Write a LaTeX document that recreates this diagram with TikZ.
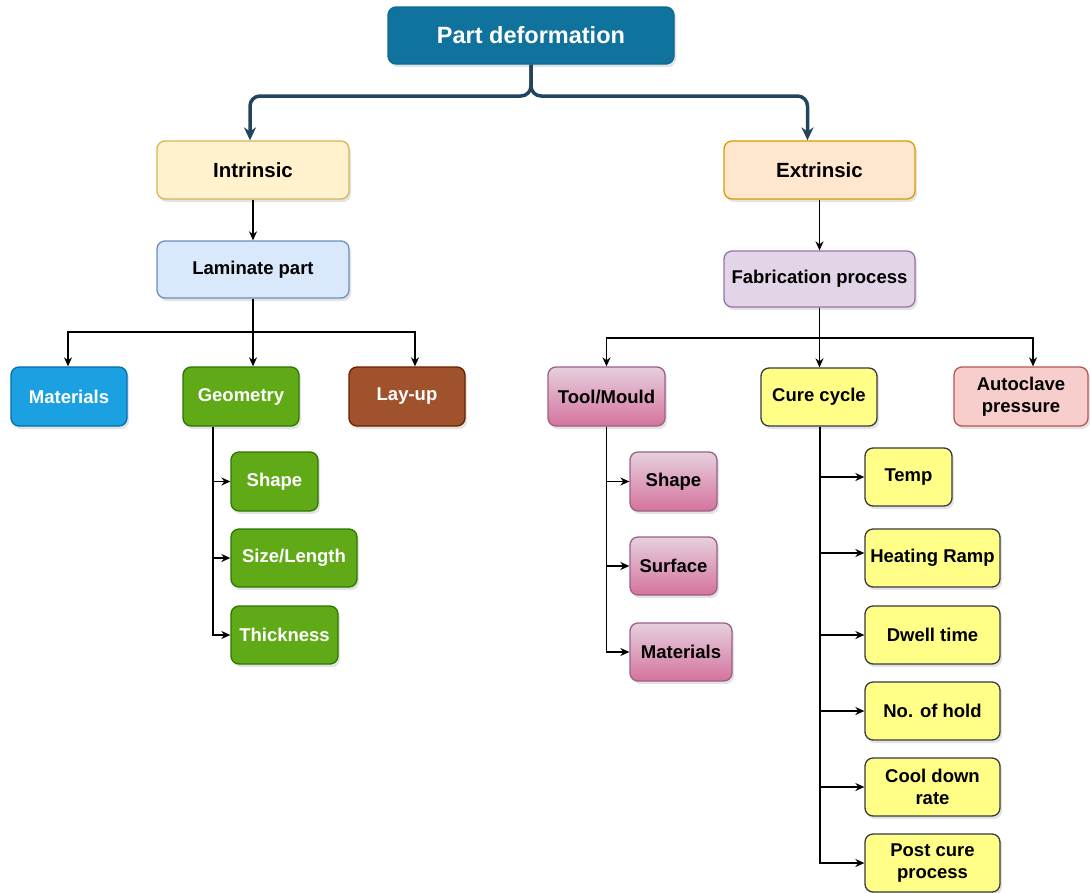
\documentclass[tikz,border=0pt]{standalone}
\usepackage{fontspec}
\setmainfont{Liberation Sans}
\usetikzlibrary{arrows.meta,shadows}
\definecolor{pdfill}{HTML}{10739E}
\definecolor{pdline}{HTML}{0E6A92}
\definecolor{darkline}{HTML}{23445D}
\definecolor{infill}{HTML}{FFF2CC}\definecolor{inline}{HTML}{D6B656}
\definecolor{exfill}{HTML}{FFE6CC}\definecolor{exline}{HTML}{D79B00}
\definecolor{lamfill}{HTML}{DAE8FC}\definecolor{lamline}{HTML}{6C8EBF}
\definecolor{fabfill}{HTML}{E1D5E7}\definecolor{fabline}{HTML}{9673A6}
\definecolor{matfill}{HTML}{1BA1E2}\definecolor{matline}{HTML}{006EAF}
\definecolor{geofill}{HTML}{60A917}\definecolor{geoline}{HTML}{2D7600}
\definecolor{layfill}{HTML}{A0522D}\definecolor{layline}{HTML}{6D1F00}
\definecolor{pinktop}{HTML}{E6D0DE}\definecolor{pinkbot}{HTML}{D5739D}\definecolor{pinkline}{HTML}{996185}
\definecolor{curefill}{HTML}{FFFF88}\definecolor{cureline}{HTML}{36393D}
\definecolor{autofill}{HTML}{F8CECC}\definecolor{autoline}{HTML}{B85450}
\begin{document}
\begin{tikzpicture}[x=1pt,y=-1pt,
  box/.style={draw, rounded corners=8pt, line width=1.3pt, inner sep=2pt, align=center,
    font=\bfseries\fontsize{18.5}{22}\selectfont,
    drop shadow={opacity=0.22,shadow xshift=2pt,shadow yshift=-3pt}},
  whitebox/.style={box, text=white},
  pinkbox/.style={box, draw=pinkline, top color=pinktop, bottom color=pinkbot},
  greenbox/.style={whitebox, fill=geofill, draw=geoline},
  curebox/.style={box, fill=curefill, draw=cureline},
  mainarrow/.style={draw=darkline, line width=3.5pt, rounded corners=10pt, -{Stealth[length=13pt,width=12pt]}},
  conn/.style={draw=black, line width=1.4pt, -{Stealth[length=9pt,width=8pt]}}]
\useasboundingbox (0,0) rectangle (1090,892);
% top
\node[whitebox, fill=pdfill, draw=pdline, minimum width=286pt, minimum height=57pt,
  font=\bfseries\fontsize{23.5}{26}\selectfont] (pd) at (531,35.5) {Part deformation};
\node[box, fill=infill, draw=inline, minimum width=192pt, minimum height=58pt,
  font=\bfseries\fontsize{20.5}{24}\selectfont] (intr) at (253,170) {Intrinsic};
\node[box, fill=exfill, draw=exline, minimum width=191pt, minimum height=58pt,
  font=\bfseries\fontsize{20.5}{24}\selectfont] (extr) at (819.5,170) {Extrinsic};
\node[box, fill=lamfill, draw=lamline, minimum width=192pt, minimum height=57pt] (lam) at (253,269.5) {Laminate part};
\node[box, fill=fabfill, draw=fabline, minimum width=191pt, minimum height=56pt] (fab) at (819.5,279) {Fabrication process};
% level 3 left
\node[whitebox, fill=matfill, draw=matline, minimum width=116pt, minimum height=59pt] (mat) at (69,396.5) {Materials};
\node[greenbox, minimum width=116pt, minimum height=59pt] (geo) at (241,396.5) {Geometry};
\node[whitebox, fill=layfill, draw=layline, minimum width=116pt, minimum height=59pt] (lay) at (407,396.5) {Lay-up};
% level 3 right
\node[pinkbox, minimum width=117pt, minimum height=59pt] (tool) at (606.5,396.5) {Tool/Mould};
\node[curebox, minimum width=116pt, minimum height=58pt] (cure) at (819,397) {Cure cycle};
\node[box, fill=autofill, draw=autoline, minimum width=134pt, minimum height=59pt] (auto) at (1021,396.5) {Autoclave\\pressure};
% geometry children
\node[greenbox, minimum width=87pt, minimum height=59pt] (gshape) at (274.5,481.5) {Shape};
\node[greenbox, minimum width=126pt, minimum height=58pt] (gsize) at (294,558) {Size/Length};
\node[greenbox, minimum width=107pt, minimum height=58pt] (gthick) at (284.5,635) {Thickness};
% tool children
\node[pinkbox, minimum width=87pt, minimum height=59pt] (tshape) at (673.5,481.5) {Shape};
\node[pinkbox, minimum width=87pt, minimum height=58pt] (tsurf) at (673.5,566) {Surface};
\node[pinkbox, minimum width=102pt, minimum height=58pt] (tmat) at (681,652) {Materials};
% cure children
\node[curebox, minimum width=87pt, minimum height=58pt] (temp) at (908.5,477) {Temp};
\node[curebox, minimum width=135pt, minimum height=58pt, inner sep=0pt] (heat) at (932.5,558) {Heating Ramp};
\node[curebox, minimum width=135pt, minimum height=58pt] (dwell) at (932.5,635) {Dwell time};
\node[curebox, minimum width=135pt, minimum height=58pt] (hold) at (932.5,711) {No. of hold};
\node[curebox, minimum width=135pt, minimum height=58pt] (cool) at (932.5,787) {Cool down\\rate};
\node[curebox, minimum width=135pt, minimum height=58pt] (post) at (932.5,863) {Post cure\\process};
% main connectors
\coordinate (topj) at (531,96);
\draw[mainarrow] (pd.south) -- (topj) -| ([xshift=-3pt]intr.north);
\draw[mainarrow] (pd.south) -- (topj) -| ([xshift=-12pt]extr.north);
% level connectors
\draw[conn] (intr.south) -- (lam.north);
\draw[conn] (extr.south) -- (fab.north);
\coordinate (lbus) at (253,332);
\draw[conn] (lam.south) -- (lbus) -| ([xshift=-1pt]mat.north);
\draw[conn] (lbus) -| ([xshift=8pt]lay.north);
\draw[conn] (lam.south) -- (lam.south |- geo.north);
\coordinate (fbus) at (819.5,338);
\draw[conn] (fab.south) -- (fbus) -| (tool.north);
\draw[conn] (fbus) -| ([xshift=12pt]auto.north);
\draw[conn] (fab.south) -- (fab.south |- cure.north);
% geometry branch
\draw[conn] ([xshift=-28pt]geo.south) |- (gshape.west);
\draw[conn] ([xshift=-28pt]geo.south) |- (gsize.west);
\draw[conn] ([xshift=-28pt]geo.south) |- (gthick.west);
% tool branch
\draw[conn] (tool.south) |- (tshape.west);
\draw[conn] (tool.south) |- (tsurf.west);
\draw[conn] (tool.south) |- (tmat.west);
% cure branch
\draw[conn] ([xshift=1pt]cure.south) |- (temp.west);
\draw[conn] ([xshift=1pt]cure.south) |- ([yshift=5pt]heat.west);
\draw[conn] ([xshift=1pt]cure.south) |- (dwell.west);
\draw[conn] ([xshift=1pt]cure.south) |- (hold.west);
\draw[conn] ([xshift=1pt]cure.south) |- (cool.west);
\draw[conn] ([xshift=1pt]cure.south) |- (post.west);
\end{tikzpicture}
\end{document}
